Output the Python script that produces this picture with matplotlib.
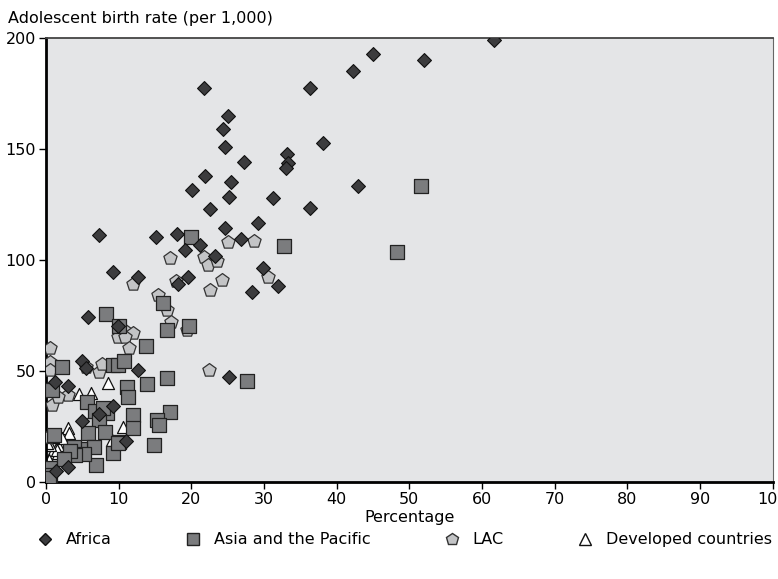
import matplotlib.pyplot as plt
from matplotlib.lines import Line2D

plt.rcParams['font.family'] = ['Liberation Sans Narrow', 'DejaVu Sans']

# values
africa_x = [61.7, 45.0, 42.2, 52.1, 36.4, 21.8, 25.1, 24.4, 24.6, 27.3,
            38.1, 33.2, 33.3, 33.0, 21.9, 20.1, 25.5, 25.2, 22.6, 31.2,
            36.3, 42.9, 29.2, 24.7, 26.8, 15.2, 18.1, 19.2, 21.2, 23.3,
            7.3, 29.9, 32.0, 28.4, 19.6, 18.2, 12.7, 9.2, 5.8, 9.9,
            5.0, 5.5, 12.7, 25.2, 1.2, 3.0, 9.2, 7.3, 5.0, 11.0,
            3.0, 1.4]
africa_y = [199, 193, 185, 190, 177.5, 177.5, 165, 159, 151, 144,
            153, 147.7, 143.7, 141.4, 137.8, 131.5, 135, 128.4, 123, 127.9,
            123.4, 133.3, 116.7, 114.4, 109.5, 110.4, 111.7, 104.5, 106.8, 101.8,
            111.3, 96.4, 88.3, 85.6, 92.3, 89.2, 92.3, 94.6, 74.3, 70.3,
            54.5, 51.4, 50.5, 47.3, 45, 43.2, 34.2, 30.6, 27.5, 18.5,
            6.8, 5.0]

asia_x = [51.6, 32.8, 48.3, 20.0, 16.1, 19.7, 16.7, 13.8, 8.3, 10.1,
          2.2, 9.2, 9.9, 10.8, 0.8, 11.2, 11.3, 13.9, 16.6, 27.7,
          5.6, 6.8, 8.4, 7.3, 12.0, 17.1, 15.3, 15.6, 12.0, 5.8,
          8.1, 1.1, 10.1, 14.9, 9.2, 6.6, 4.7, 3.8, 6.9, 0.6,
          0.5, 0.4, 9.9, 5.2, 4.0, 3.3, 2.5, 7.9]
asia_y = [133.3, 106.3, 103.6, 110.4, 80.6, 70.3, 68.7, 61.3, 75.7, 70.3,
          51.8, 52.7, 52.7, 54.5, 41.4, 42.8, 38.5, 44.3, 46.8, 45.5,
          36.0, 32.0, 31.1, 27.9, 30.2, 31.5, 27.9, 25.7, 24.3, 22.0,
          22.5, 21.2, 18.0, 16.7, 13.1, 15.8, 14.9, 15.8, 7.7, 6.3,
          3.2, 1.8, 17.6, 12.5, 12.0, 14.0, 10.5, 33.3]

lac_x = [25.0, 28.7, 17.1, 21.7, 22.3, 23.6, 24.3, 22.6, 30.5, 17.9,
         15.4, 16.7, 17.2, 19.4, 12.0, 10.8, 12.0, 9.9, 10.9, 11.5,
         0.6, 0.5, 0.5, 7.3, 7.7, 3.0, 0.8, 22.4, 1.7, 0.3,
         6.1, 5.5]
lac_y = [108.1, 108.6, 101.0, 101.5, 97.7, 99.5, 91.0, 86.7, 92.3, 90.5,
         84.2, 77.5, 72.0, 68.5, 89.2, 68.5, 67.0, 65.3, 65.3, 60.4,
         60.4, 54.0, 50.5, 49.5, 53.2, 39.2, 34.7, 50.5, 38.3, 20.3,
         26.6, 52.0]

dev_x = [8.6, 6.2, 4.6, 3.0, 10.6, 5.9, 1.7, 0.8, 1.7, 0.4,
         0.1, 9.1, 1.5, 0.6, 0.1, 3.2, 2.2, 1.0, 0.3]
dev_y = [44.6, 40.1, 39.6, 24.3, 24.8, 26.6, 16.7, 13.1, 13.1, 9.9,
         6.8, 18.9, 14.4, 16.7, 17.6, 22.0, 20.0, 20.5, 3.0]

fig = plt.figure(figsize=(7.78, 5.79), dpi=100)
ax = fig.add_axes([0.059, 0.1675, 0.934, 0.7665])
ax.set_facecolor('#e4e5e7')

ax.scatter(dev_x, dev_y, marker='^', s=75, facecolor='white', edgecolor='#111111', linewidth=0.9, zorder=2)
ax.scatter(lac_x, lac_y, marker='p', s=100, facecolor='#c3c4c6', edgecolor='#333333', linewidth=0.9, zorder=3)
ax.scatter(asia_x, asia_y, marker='s', s=90, facecolor='#7b7c7e', edgecolor='#222222', linewidth=0.9, zorder=4)
ax.scatter(africa_x, africa_y, marker='D', s=50, facecolor='#3c3c3e', edgecolor='#111111', linewidth=0.8, zorder=5)

ax.set_xlim(0, 100)
ax.set_ylim(0, 200)
ax.set_xticks(range(0, 101, 10))
ax.set_yticks(range(0, 201, 50))
ax.tick_params(labelsize=11.5, length=5, width=1, colors='black', pad=2)

ax.spines['left'].set_linewidth(2)
ax.spines['bottom'].set_linewidth(2)
ax.spines['top'].set_linewidth(1.3)
ax.spines['top'].set_color('#444444')
ax.spines['right'].set_linewidth(0.8)
ax.spines['right'].set_color('#666666')

ax.set_xlabel('Percentage', fontsize=11.5, labelpad=2)
fig.text(0.010, 0.968, 'Adolescent birth rate (per 1,000)', fontsize=11.5, va='center', ha='left')

handles = [
    Line2D([], [], marker='D', linestyle='none', markersize=6, markerfacecolor='#3c3c3e', markeredgecolor='#111111'),
    Line2D([], [], marker='s', linestyle='none', markersize=8, markerfacecolor='#7b7c7e', markeredgecolor='#222222'),
    Line2D([], [], marker='p', linestyle='none', markersize=9, markerfacecolor='#c3c4c6', markeredgecolor='#333333'),
    Line2D([], [], marker='^', linestyle='none', markersize=8, markerfacecolor='white', markeredgecolor='#111111'),
]
labels = ['Africa', 'Asia and the Pacific', 'LAC', 'Developed countries']
fig.legend(handles, labels, loc='center', bbox_to_anchor=(0.52, 0.068), ncol=4, frameon=False,
           fontsize=11.5, columnspacing=4.6, handletextpad=0.8, handlelength=1.0)

fig.savefig('out.png', dpi=100)
